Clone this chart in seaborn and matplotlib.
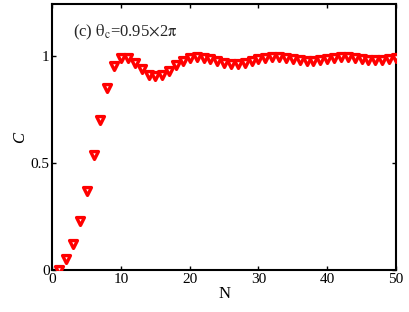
import matplotlib
matplotlib.use("Agg")
import matplotlib.pyplot as plt
import seaborn as sns
import pandas as pd

# datos
n_vals = list(range(1, 51))
c_vals = [0.0, 0.05, 0.12, 0.23, 0.37, 0.535, 0.70, 0.85, 0.95, 0.99,
          0.99, 0.965, 0.935, 0.91, 0.905, 0.91, 0.93, 0.955, 0.975, 0.99,
          0.995, 0.99, 0.985, 0.975, 0.965, 0.96, 0.96, 0.965, 0.975, 0.985,
          0.99, 0.995, 0.995, 0.99, 0.985, 0.98, 0.975, 0.975, 0.98, 0.985,
          0.99, 0.995, 0.995, 0.99, 0.985, 0.98, 0.98, 0.98, 0.985, 0.99]
x_ticks = [0, 10, 20, 30, 40, 50]
y_ticks = [0, 0.5, 1]
y_labels = ["0", "0.5", "1"]

df = pd.DataFrame({"N": n_vals, "C": c_vals})

sns.set_style("ticks")
plt.rcParams['font.family'] = ['Liberation Serif', 'DejaVu Serif']
plt.rcParams['mathtext.fontset'] = 'stix'

fig = plt.figure(figsize=(4.09, 3.12), dpi=100)
ax = fig.add_axes([0.128, 0.135, 0.84, 0.852])

sns.scatterplot(data=df, x="N", y="C", ax=ax, marker="v", s=32,
                facecolor="white", edgecolor="red", linewidth=2.4, zorder=3)

ax.set_xlim(0, 50)
ax.set_ylim(0, 1.24)
ax.set_xticks(x_ticks)
ax.set_yticks(y_ticks)
ax.set_yticklabels(y_labels)
ax.tick_params(direction="in", top=True, right=True, length=3, width=1,
               labelsize=11, pad=2, color="black", labelcolor="black")
for sp in ax.spines.values():
    sp.set_linewidth(1.5)
    sp.set_color("black")
    sp.set_visible(True)

ax.set_xlabel("N", fontsize=12, labelpad=0, color="black")
ax.set_ylabel("C", fontsize=12, style="italic", labelpad=2, color="black")

ax.text(3.0, 1.09, r"(c) $\mathrm{\theta}_{\mathrm{c}}$=0.95$\times$2$\mathrm{\pi}$",
        fontsize=12)

fig.savefig("out.png", dpi=100)
